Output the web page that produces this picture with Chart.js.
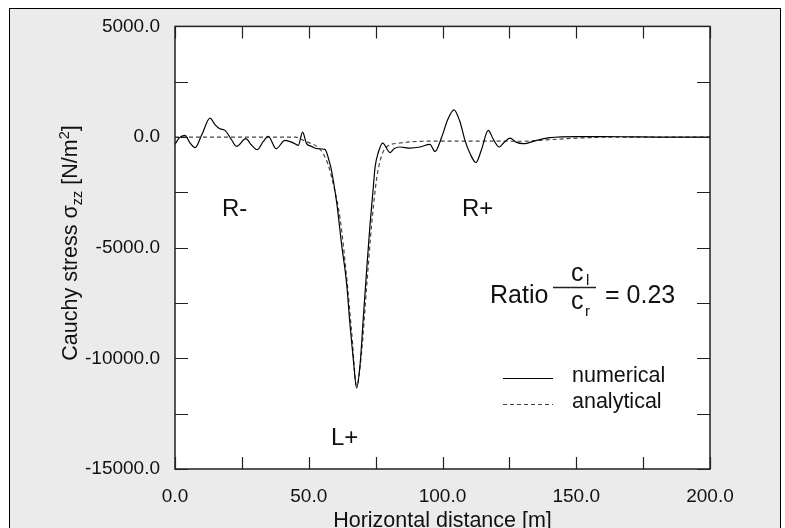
<!DOCTYPE html>
<html>
<head>
<meta charset="utf-8">
<script src="https://cdn.jsdelivr.net/npm/chart.js@4"></script>
<style>
body{margin:0;background:#fff}
canvas{display:block}
</style>
</head>
<body>
<canvas id="myChart" width="785" height="528"></canvas>
<script>
// numerical solution
const numX=[0,1.5,3.7,5.5,7.5,10,13.1,15,16.8,18.7,21,23,26.5,28.5,30.8,33,34.9,37.8,41.1,44,46.1,47.7,49.2,51,53,56,57.9,58.6,60.4,62.3,64.2,65.4,66.7,67.9,69.2,70.4,71.7,72.9,74.1,74.8,76,77.6,80.4,82,84.1,87.9,91.6,95.3,97.2,99.7,102,104.3,106.5,108.4,110.5,112.5,114.5,117.1,119,121.2,123,125.2,127.5,130.2,135.2,140.2,150,160,170,180,200]
const numY=[-330,-50,75,-250,-480,100,855,550,375,300,-100,-420,-75,-350,-570,-200,30,-525,-150,-250,-375,225,-300,-420,-525,-555,-1200,-1570,-2920,-4870,-6670,-8460,-10110,-11340,-10260,-8160,-5920,-3970,-2320,-1350,-700,-270,-700,-520,-450,-500,-450,-330,-650,0,800,1230,700,-150,-800,-1150,-600,300,-100,-450,-250,-45,-230,-300,-150,-30,20,20,10,0,0]
// analytical solution
const anaX=[0,45,48,51,53,55.4,57.3,59.5,61.7,64.2,66.1,67.9,69.8,71.7,73.5,75.4,77.3,79.1,84.1,91.6,104,130,140,150,165,200]
const anaY=[0,0,-150,-300,-420,-750,-1270,-2300,-3670,-6370,-8910,-11240,-9660,-6670,-3970,-1870,-820,-450,-270,-195,-180,-190,-120,-50,0,0]

const xMin=0, xMax=200, xStep=25, xLabelStep=50
const yMin=-15000, yMax=5000, yStep=2500, yLabelStep=5000

const FONT='"Liberation Sans", Arial, sans-serif'

function pts(xs,ys){return xs.map((x,i)=>({x:x,y:ys[i]}))}

const frame={
  id:'frame',
  beforeDraw(chart){
    const c=chart.ctx, a=chart.chartArea
    c.save()
    c.fillStyle='#fff'
    c.fillRect(0,0,chart.width,chart.height)
    c.fillStyle='#ebebeb'
    c.fillRect(9.5,8.5,771,530)
    c.strokeStyle='#000'
    c.lineWidth=1
    c.strokeRect(9.5,8.5,771,530)
    c.fillStyle='#fff'
    c.fillRect(a.left,a.top,a.right-a.left,a.bottom-a.top)
    c.restore()
  },
  afterDraw(chart){
    const c=chart.ctx, a=chart.chartArea
    const xs=chart.scales.x, ys=chart.scales.y
    c.save()
    c.strokeStyle='#222'
    c.lineWidth=1.5
    c.strokeRect(a.left,a.top,a.right-a.left,a.bottom-a.top)
    c.lineWidth=1.2
    c.beginPath()
    for(let v=xMin;v<=xMax;v+=xStep){
      const p=Math.round(xs.getPixelForValue(v))+0.5
      c.moveTo(p,a.bottom);c.lineTo(p,a.bottom-12)
      c.moveTo(p,a.top);c.lineTo(p,a.top+12)
    }
    for(let v=yMin;v<=yMax;v+=yStep){
      const p=Math.round(ys.getPixelForValue(v))+0.5
      c.moveTo(a.left,p);c.lineTo(a.left+13,p)
      c.moveTo(a.right,p);c.lineTo(a.right-13,p)
    }
    c.stroke()

    c.fillStyle='#111'
    c.textBaseline='alphabetic'
    // axis titles
    c.font='21.5px '+FONT
    c.textAlign='center'
    c.fillText('Horizontal distance [m]',(a.left+a.right)/2,527)

    const parts=[['Cauchy stress σ',21.5,0],['zz',14.5,5],[' [N/m',21.5,0],['2',14.5,-8],[']',21.5,0]]
    let w=0
    parts.forEach(p=>{c.font=p[1]+'px '+FONT;w+=c.measureText(p[0]).width})
    c.translate(77,243+w/2)
    c.rotate(-Math.PI/2)
    c.textAlign='left'
    let x=0
    parts.forEach(p=>{c.font=p[1]+'px '+FONT;c.fillText(p[0],x,p[2]);x+=c.measureText(p[0]).width})
    c.setTransform(1,0,0,1,0,0)

    // region labels
    c.font='24px '+FONT
    c.textAlign='left'
    c.fillText('R-',222,216)
    c.fillText('R+',462,216)
    c.fillText('L+',331,445)

    // ratio
    c.font='25px '+FONT
    c.fillText('Ratio',490,303)
    c.fillText('c',571,281)
    c.fillText('c',571,309)
    c.fillText('= 0.23',605,303)
    c.font='15px '+FONT
    c.fillText('l',586,285)
    c.fillText('r',585,316)
    c.lineWidth=1.3
    c.beginPath();c.moveTo(553,287.5);c.lineTo(596,287.5);c.stroke()

    // legend
    const ds=chart.data.datasets
    const rows=[[378,ds[0]],[404,ds[1]]]
    rows.forEach(r=>{
      c.strokeStyle=r[1].borderColor
      c.lineWidth=r[1].borderWidth
      c.setLineDash(r[1].borderDash||[])
      c.beginPath();c.moveTo(503,r[0]+0.5);c.lineTo(553,r[0]+0.5);c.stroke()
      c.setLineDash([])
      c.font='21.5px '+FONT
      c.fillText(r[1].label,572,r[0]+4)
    })
    c.restore()
  }
}

new Chart(document.getElementById('myChart'),{
  type:'line',
  data:{
    datasets:[
      {label:'numerical',data:pts(numX,numY),borderColor:'#000',borderWidth:1.2,pointRadius:0,cubicInterpolationMode:'monotone',fill:false},
      {label:'analytical',data:pts(anaX,anaY),borderColor:'#444',borderWidth:1.2,borderDash:[4,3],pointRadius:0,cubicInterpolationMode:'monotone',fill:false}
    ]
  },
  options:{
    responsive:false,
    animation:false,
    layout:{padding:{left:0,right:75,top:24,bottom:0}},
    plugins:{legend:{display:false},tooltip:{enabled:false}},
    scales:{
      x:{
        type:'linear',min:xMin,max:xMax,
        grid:{display:false,drawTicks:false},
        border:{display:false},
        afterFit(s){s.height=59},
        ticks:{stepSize:xStep,padding:16,color:'#111',font:{family:FONT,size:19},maxRotation:0,autoSkip:false,
          callback:v=>v%xLabelStep===0?v.toFixed(1):''}
      },
      y:{
        type:'linear',min:yMin,max:yMax,
        grid:{display:false,drawTicks:false},
        border:{display:false},
        afterFit(s){s.width=175},
        ticks:{stepSize:yStep,padding:15,color:'#111',font:{family:FONT,size:19},autoSkip:false,
          callback:v=>v%yLabelStep===0?v.toFixed(1):''}
      }
    }
  },
  plugins:[frame]
})
</script>
</body>
</html>
